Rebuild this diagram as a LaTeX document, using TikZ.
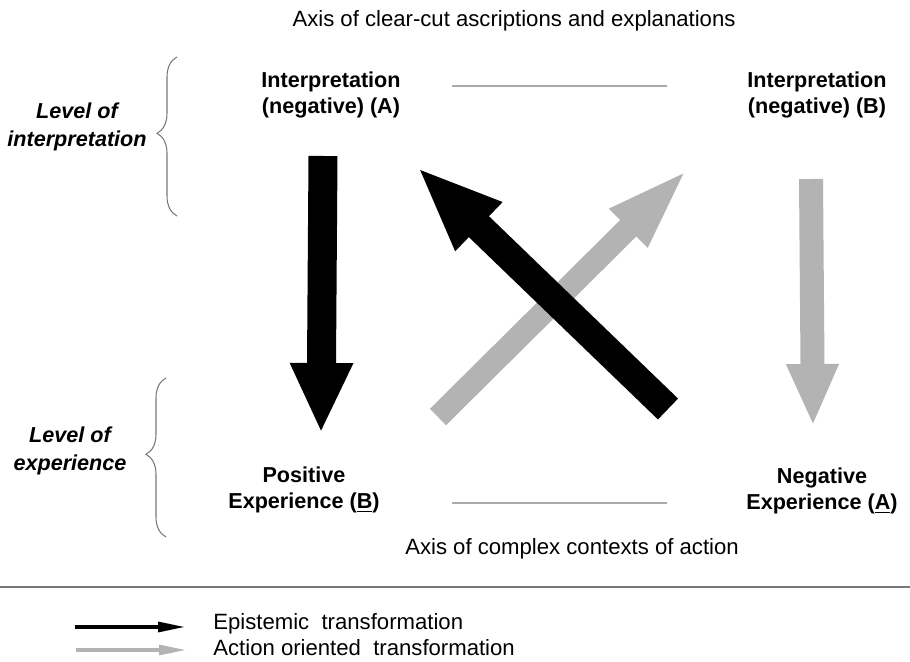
\documentclass[tikz,border=0pt]{standalone}
\usepackage{fontspec}
\setmainfont{Liberation Sans}
\usetikzlibrary{arrows.meta,decorations.pathreplacing}
\definecolor{arrgray}{RGB}{179,179,179}
\definecolor{axgray}{RGB}{170,170,170}
\definecolor{rulegray}{RGB}{120,120,120}

\begin{document}
\begin{tikzpicture}[x=0.02cm,y=-0.02cm,
  lbl/.style={font=\fontsize{12.3}{14.7}\selectfont\bfseries,align=center},
  lvl/.style={font=\fontsize{12.3}{15.9}\selectfont\bfseries\itshape,align=center},
  txt/.style={font=\fontsize{12.6}{14}\selectfont,anchor=base,inner sep=0pt},
  brc/.style={draw=rulegray,line width=0.6pt,decorate,decoration={brace,amplitude=0.4cm,aspect=0.52}}]
\useasboundingbox (0,0) rectangle (910,662);

% quadrant labels
\node[lbl] (iA) at (331,95) {Interpretation\\(negative) (A)};
\node[lbl] (iB) at (817,95) {Interpretation\\(negative) (B)};
\node[lbl] (eB) at (304,490) {Positive\\Experience (\underline{B})};
\node[lbl] (eA) at (822,491) {Negative\\Experience (\underline{A})};

% axes
\node[txt] (t1) at (514,27) {Axis of clear-cut ascriptions and explanations};
\node[txt] (t2) at (572,554) {Axis of complex contexts of action};
\coordinate (h1) at (452,86);
\coordinate (h2) at (667,86);
\coordinate (h3) at (452,503);
\coordinate (h4) at (667,503);
\draw[axgray,line width=1.2pt] (h1) -- (h2);
\draw[axgray,line width=1.2pt] (h3) -- (h4);

% levels
\node[lvl] (l1) at (77,127) {Level of\\interpretation};
\node[lvl] (l2) at (70,451) {Level of\\experience};
\coordinate (b1) at (177,216);
\coordinate (b2) at (177,57);
\coordinate (b3) at (166,537);
\coordinate (b4) at (166,378);
\draw[brc] (b1) -- (b2);
\draw[brc] (b3) -- (b4);

% transformations
\coordinate (a1) at (323,156);
\coordinate (a2) at (321,433);
\coordinate (a3) at (811,179);
\coordinate (a4) at (813,426);
\coordinate (a5) at (438,417);
\coordinate (a6) at (690,167);
\coordinate (a7) at (668,409);
\coordinate (a8) at (417,167);
\draw[black,line width=0.58cm,-{Triangle[length=1.4cm,width=1.16cm]}] (a1) -- (a2);
\draw[arrgray,line width=0.48cm,-{Triangle[length=1.24cm,width=0.96cm]}] (a3) -- (a4);
\draw[arrgray,line width=0.46cm,-{Triangle[length=1.74cm,width=0.94cm]}] (a5) -- (a6);
\draw[black,line width=0.58cm,-{Triangle[length=1.72cm,width=1.22cm]}] (a7) -- (a8);

% legend
\draw[rulegray,line width=1.2pt] (0,587) -- (910,587);
\coordinate (k1) at (75,627);
\coordinate (k2) at (185,627);
\coordinate (k3) at (76,650);
\coordinate (k4) at (186,650);
\draw[black,line width=1.8pt,-{Triangle[length=0.54cm,width=0.2cm]}] (k1) -- (k2);
\draw[arrgray,line width=1.8pt,-{Triangle[length=0.54cm,width=0.2cm]}] (k3) -- (k4);
\node[txt,anchor=base west] (t3) at (213,629) {Epistemic\ \ transformation};
\node[txt,anchor=base west] (t4) at (213,655) {Action oriented\ \ transformation};
\end{tikzpicture}
\end{document}
